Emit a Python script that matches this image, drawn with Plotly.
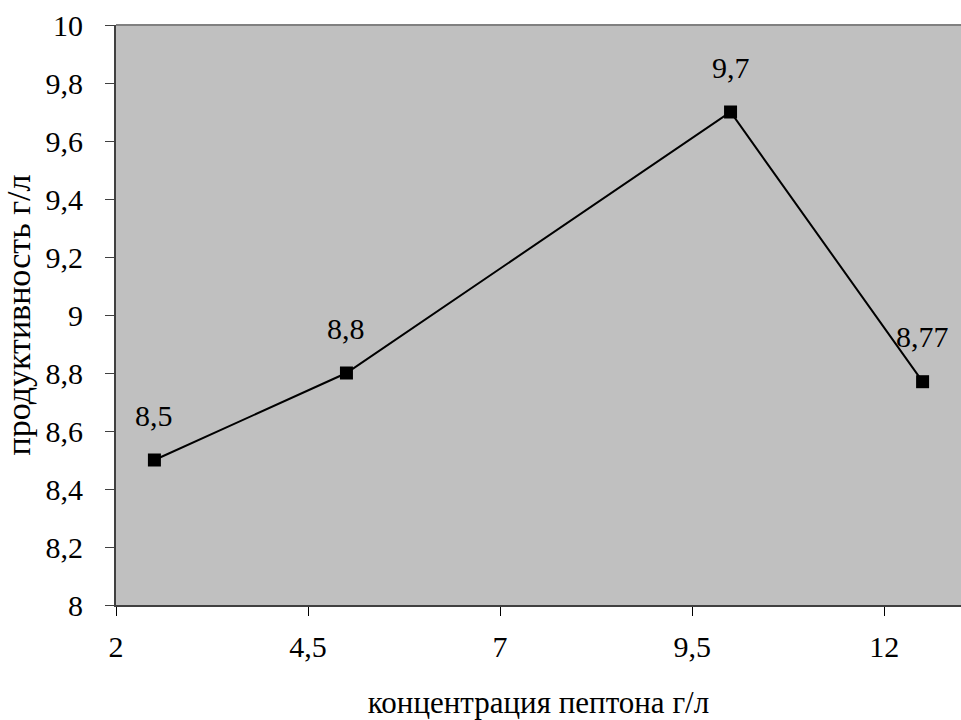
import plotly.graph_objects as go

# Peptone concentration (g/l) and productivity (g/l)
peptone = [2.5, 5.0, 10.0, 12.5]
productivity = [8.5, 8.8, 9.7, 8.77]
value_labels = ["8,5", "8,8", "9,7", "8,77"]

x_title = "концентрация пептона г/л"
y_title = "продуктивность г/л"

FONT = "Liberation Serif"

fig = go.Figure()
fig.add_trace(go.Scatter(
    x=peptone,
    y=productivity,
    mode="lines+markers",
    line=dict(color="black", width=2),
    marker=dict(symbol="square", size=13, color="black"),
    hoverinfo="skip",
    showlegend=False,
    cliponaxis=False,
))

for xv, yv, lab in zip(peptone, productivity, value_labels):
    fig.add_annotation(
        x=xv, y=yv, text=lab, showarrow=False,
        yshift=45, font=dict(family=FONT, size=30, color="black"),
    )

fig.update_layout(
    width=961, height=720,
    margin=dict(l=116, r=0, t=25, b=115, pad=0, autoexpand=False),
    paper_bgcolor="white",
    plot_bgcolor="#c0c0c0",
    separators=", ",
    font=dict(family=FONT, size=30, color="black"),
    xaxis=dict(
        range=[2, 13],
        tick0=2, dtick=2.5,
        ticks="outside", ticklen=9, tickwidth=1, tickcolor="black",
        showline=True, linecolor="#404040", linewidth=2,
        showgrid=False, zeroline=False,
        automargin=False,
        ticklabelstandoff=5,
        tickfont=dict(family=FONT, size=30),
        title=dict(text=x_title, font=dict(family=FONT, size=31), standoff=34),
    ),
    yaxis=dict(
        range=[8, 10],
        tick0=8, dtick=0.2,
        ticks="outside", ticklen=9, tickwidth=1, tickcolor="#404040",
        showline=True, linecolor="#404040", linewidth=2,
        showgrid=False, zeroline=False,
        automargin=False,
        ticklabelstandoff=16,
        tickfont=dict(family=FONT, size=30),
        title=dict(text=y_title, font=dict(family=FONT, size=34), standoff=6),
    ),
)

# thin gray frame along the top of the plotting area
fig.add_shape(type="line", xref="paper", yref="paper",
              x0=0, x1=1, y0=1, y1=1,
              line=dict(color="#808080", width=2))

fig.write_html("out.html")
